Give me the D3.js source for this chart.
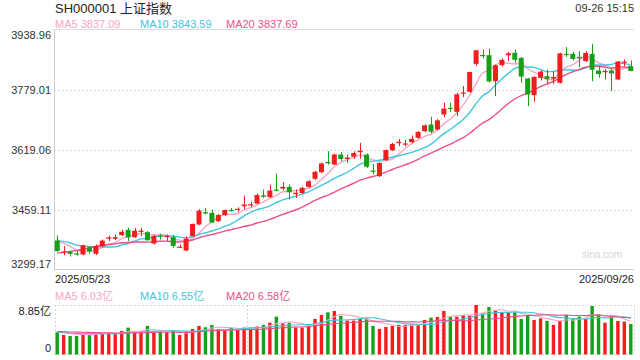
<!DOCTYPE html>
<html><head><meta charset="utf-8">
<script src="https://cdn.jsdelivr.net/npm/d3@7"></script>
<style>
body{margin:0;background:#fff;}
svg{display:block;font-family:"Liberation Sans",Arial,"Noto Sans CJK SC",sans-serif;}
</style>
</head><body>
<svg id="c" width="640" height="360"></svg>
<script>
// ---------- data ----------
const title = "SH000001 上证指数";
const stamp = "09-26 15:15";
const dateLabels = ["2025/05/23", "2025/09/26"];
const priceTicks = [3299.17, 3459.11, 3619.06, 3779.01, 3938.96];
const volTicks = [0, 8.85];
const maPeriods = [5, 10, 20];
const maNames = ["MA5", "MA10", "MA20"];
const maValues = ["3837.09", "3843.59", "3837.69"];
const volMaValues = ["6.03亿", "6.55亿", "6.58亿"];

// closes of the 19 sessions before 2025/05/23 (for moving averages)
const prevClose = [3296.36, 3297.29, 3295.06, 3288.41, 3286.65, 3279.03, 3316.11, 3342.67, 3352.00, 3342.00,
  3369.24, 3374.87, 3403.95, 3380.82, 3367.46, 3367.58, 3380.48, 3387.57, 3380.19];
const prevVolume = [4.0, 4.2, 3.9, 4.1, 4.3, 4.5, 4.6, 4.3, 4.1, 4.2, 4.0, 4.4, 4.1, 3.8, 3.7, 3.9, 4.0, 3.9, 4.0];

const open = [3376.5,3344.0,3346.0,3342.0,3339.2,3358.7,3341.0,3361.4,3381.0,3381.0,
  3390.7,3404.9,3385.4,3400.0,3398.7,3368.5,3390.0,3386.0,3385.4,3358.0,
  3349.8,3388.0,3419.1,3452.0,3450.2,3428.0,3444.0,3458.0,3458.0,3468.0,
  3470.0,3475.1,3497.0,3492.0,3512.0,3515.0,3519.5,3500.0,3503.0,3519.5,
  3541.0,3558.6,3586.0,3579.1,3605.7,3594.0,3600.0,3612.0,3605.7,3563.0,
  3548.0,3590.6,3617.3,3636.0,3633.0,3638.6,3650.2,3667.9,3685.7,3672.4,
  3712.4,3730.0,3719.5,3768.0,3772.8,3847.4,3871.0,3870.5,3801.2,3843.9,
  3870.0,3876.8,3863.4,3808.3,3763.9,3810.1,3814.6,3808.0,3796.8,3874.0,
  3874.1,3866.0,3854.5,3874.1,3829.7,3825.0,3829.7,3805.7,3850.0,3841.2];
const high = [3389.8,3361.4,3349.8,3348.0,3365.8,3361.4,3365.8,3379.1,3389.8,3392.5,
  3404.9,3410.2,3410.0,3410.2,3401.4,3392.0,3394.2,3392.5,3390.7,3365.8,
  3388.0,3422.0,3460.0,3463.6,3459.0,3447.6,3459.0,3463.6,3465.0,3496.4,
  3480.0,3501.8,3512.4,3525.8,3555.1,3532.0,3525.8,3512.4,3520.0,3537.3,
  3562.0,3584.0,3614.6,3608.4,3612.0,3605.7,3614.0,3636.8,3608.4,3580.9,
  3585.0,3619.0,3636.8,3647.5,3645.0,3656.4,3668.0,3686.0,3706.2,3700.0,
  3743.5,3743.5,3770.0,3787.9,3826.0,3884.5,3885.6,3888.3,3845.6,3862.0,
  3879.4,3885.6,3865.2,3810.0,3814.0,3829.7,3832.3,3826.1,3877.0,3891.9,
  3879.4,3881.2,3882.0,3900.8,3841.2,3833.0,3836.8,3855.0,3859.0,3856.3];
const low = [3346.3,3337.4,3333.8,3336.5,3337.4,3340.9,3337.4,3358.7,3374.7,3377.4,
  3388.0,3374.7,3383.0,3388.0,3376.5,3366.0,3379.1,3374.7,3356.9,3356.9,
  3348.0,3386.2,3417.0,3446.0,3423.6,3426.0,3442.0,3453.0,3452.0,3460.0,
  3465.0,3474.2,3490.2,3490.0,3508.0,3510.0,3485.8,3490.2,3500.0,3517.0,
  3538.0,3556.0,3579.1,3577.3,3588.0,3583.5,3594.0,3594.2,3570.0,3552.4,
  3546.0,3588.0,3615.0,3628.0,3628.0,3636.0,3648.0,3665.0,3661.7,3670.0,
  3705.3,3719.5,3708.0,3758.6,3770.0,3841.2,3861.7,3798.0,3761.2,3840.0,
  3854.5,3850.1,3796.8,3734.6,3746.1,3803.0,3792.3,3794.1,3795.0,3866.0,
  3856.3,3838.5,3853.0,3801.2,3810.1,3805.7,3774.6,3804.0,3841.2,3827.9];
const close = [3348.37,3346.84,3340.69,3339.93,3363.45,3347.49,3361.98,3376.20,3384.82,3385.36,
  3399.77,3384.82,3402.32,3402.66,3377.00,3388.73,3387.40,3388.81,3362.11,3359.90,
  3381.58,3420.57,3455.97,3448.45,3424.23,3444.43,3457.75,3454.79,3461.15,3472.32,
  3473.13,3497.48,3493.05,3509.68,3510.18,3519.65,3505.00,3503.78,3516.83,3534.48,
  3559.79,3581.86,3582.30,3605.73,3593.66,3597.94,3609.71,3615.72,3573.21,3559.95,
  3583.31,3617.60,3633.99,3639.67,3635.13,3647.55,3665.92,3683.46,3666.44,3696.77,
  3728.03,3727.29,3766.21,3771.10,3825.76,3883.56,3868.38,3800.35,3843.60,3857.93,
  3875.53,3858.13,3813.56,3765.88,3812.51,3826.84,3807.29,3812.22,3875.31,3870.60,
  3860.50,3861.87,3876.34,3831.66,3820.09,3828.58,3821.83,3853.64,3853.30,3828.11];
// volume, 亿
const volume = [3.98,3.50,3.33,3.33,3.80,3.80,3.80,3.80,3.80,3.80,
  4.22,4.81,4.10,4.10,5.11,4.10,4.10,3.98,4.22,3.50,
  3.80,4.57,5.11,4.87,5.29,4.57,4.40,4.81,4.40,4.81,
  4.81,5.00,5.29,5.70,6.77,5.58,5.70,4.81,4.81,5.00,
  6.36,7.07,7.54,7.78,6.89,6.06,6.06,6.36,6.47,5.11,
  4.57,4.93,5.11,5.29,5.29,5.41,5.41,6.18,6.59,6.71,
  7.78,6.77,6.77,7.07,6.95,8.85,7.37,8.49,7.78,7.54,
  7.54,7.54,6.36,7.07,6.18,6.47,6.00,5.29,6.00,7.07,
  6.36,6.77,6.36,8.67,7.19,5.70,6.89,6.00,5.88,5.46];

// ---------- styles ----------
const RED = "#f21d1d", GREEN = "#16a016";
const MA_COLORS = ["#f8a6c1", "#3ec6e0", "#ee4f86"];

const svg = d3.select("#c");
const L = 54, R = 634;
const mainTop = 29.5, mainBot = 269.5;
const volTop = 305, volBot = 354.5;

const idx = d3.range(close.length);
const x = d3.scaleBand().domain(idx).range([L, R]).paddingInner(0.22).paddingOuter(0.11);
const xc = i => x(i) + x.bandwidth() / 2;
const y = d3.scaleLinear().domain([priceTicks[0], priceTicks[priceTicks.length - 1]]).range([mainBot, mainTop]);
const yv = d3.scaleLinear().domain([volTicks[0], volTicks[1]]).range([volBot, volTop]);

function movingAvg(prev, arr, n) {
  const all = prev.concat(arr);
  const off = prev.length;
  return arr.map((_, i) => d3.mean(all.slice(off + i - n + 1, off + i + 1)));
}

// ---------- header ----------
svg.append("text").attr("x", 55).attr("y", 13).attr("font-size", 13).attr("fill", "#222").text(title);
svg.append("text").attr("x", 634).attr("y", 12).attr("font-size", 11).attr("fill", "#333").attr("text-anchor", "end").text(stamp);
const legX = [55, 140, 226];
maNames.forEach((n, k) => {
  svg.append("text").attr("x", legX[k]).attr("y", 28).attr("font-size", 11).attr("fill", MA_COLORS[k]).text(n + " " + maValues[k]);
  svg.append("text").attr("x", legX[k]).attr("y", 300).attr("font-size", 11).attr("fill", MA_COLORS[k]).text(n + " " + volMaValues[k]);
});

// ---------- main frame & grid ----------
const gMain = svg.append("g");
priceTicks.slice(1, -1).forEach(t => {
  gMain.append("line").attr("x1", L).attr("x2", R).attr("y1", Math.round(y(t)) + 0.5).attr("y2", Math.round(y(t)) + 0.5)
    .attr("stroke", "#d9d9d9").attr("stroke-dasharray", "2,2");
});
gMain.append("line").attr("x1", L).attr("x2", R).attr("y1", mainTop).attr("y2", mainTop).attr("stroke", "#dddddd");
gMain.append("line").attr("x1", L).attr("x2", R).attr("y1", mainBot).attr("y2", mainBot).attr("stroke", "#d0d0d0");
gMain.append("line").attr("x1", L + 0.5).attr("x2", L + 0.5).attr("y1", mainTop).attr("y2", mainBot).attr("stroke", "#cccccc");

const yAxis = d3.axisLeft(y).tickValues(priceTicks).tickSize(0).tickPadding(3).tickFormat(d3.format(".2f"));
const ga = svg.append("g").attr("transform", `translate(${L},0)`).call(yAxis);
ga.select(".domain").remove();
ga.selectAll("text").attr("font-size", 11).attr("fill", "#333").attr("font-family", "Liberation Sans, Arial, sans-serif")
  .attr("dy", (d, i) => i === 0 ? "-0.15em" : (i === priceTicks.length - 1 ? "0.82em" : "0.32em"));

// watermark
svg.append("text").attr("x", 622).attr("y", 258).attr("text-anchor", "end").attr("font-size", 10).attr("fill", "#d4d4d4").text("sina.com");

// ---------- MA lines (price) ----------
const lineGen = d3.line().x((d, i) => xc(i)).y(d => y(d)).curve(d3.curveMonotoneX);
maPeriods.forEach((p, k) => {
  const ma = movingAvg(prevClose, close, p);
  svg.append("path").attr("d", lineGen(ma)).attr("fill", "none").attr("stroke", MA_COLORS[k]).attr("stroke-width", 1.4);
});

// ---------- candles ----------
const gC = svg.append("g");
idx.forEach(i => {
  const up = close[i] >= open[i];
  const col = up ? RED : GREEN;
  const cx = Math.round(xc(i)) + 0.5;
  gC.append("line").attr("x1", cx).attr("x2", cx).attr("y1", y(high[i])).attr("y2", y(low[i])).attr("stroke", col).attr("stroke-width", 1);
  const y0 = y(Math.max(open[i], close[i])), y1 = y(Math.min(open[i], close[i]));
  gC.append("rect").attr("x", xc(i) - 2.5).attr("width", 5)
    .attr("y", y0).attr("height", Math.max(1.2, y1 - y0)).attr("fill", col);
});

// ---------- date labels ----------
svg.append("text").attr("x", 55).attr("y", 283).attr("font-size", 11).attr("fill", "#222").text(dateLabels[0]);
svg.append("text").attr("x", 634).attr("y", 283).attr("font-size", 11).attr("fill", "#222").attr("text-anchor", "end").text(dateLabels[1]);

// ---------- volume panel ----------
const gV = svg.append("g");
const dot = { stroke: "#d6d6d6", dash: "2,2" };
[[L, R, volTop + 0.5, volTop + 0.5], [L, R, volBot, volBot]].forEach(a =>
  gV.append("line").attr("x1", a[0]).attr("x2", a[1]).attr("y1", a[2]).attr("y2", a[3]).attr("stroke", dot.stroke).attr("stroke-dasharray", dot.dash));
[L + 0.5, L + (R - L) / 3, L + 2 * (R - L) / 3, R - 0.5].forEach(xx =>
  gV.append("line").attr("x1", Math.round(xx) + 0.5).attr("x2", Math.round(xx) + 0.5).attr("y1", volTop).attr("y2", volBot)
    .attr("stroke", dot.stroke).attr("stroke-dasharray", dot.dash));

idx.forEach(i => {
  const up = close[i] >= open[i];
  gV.append("rect").attr("x", xc(i) - 1.7).attr("width", 3.4)
    .attr("y", yv(volume[i])).attr("height", volBot - yv(volume[i])).attr("fill", up ? RED : GREEN);
});
const vLine = d3.line().x((d, i) => xc(i)).y(d => yv(d)).curve(d3.curveMonotoneX);
maPeriods.forEach((p, k) => {
  const ma = movingAvg(prevVolume, volume, p);
  gV.append("path").attr("d", vLine(ma)).attr("fill", "none").attr("stroke", MA_COLORS[k]).attr("stroke-width", 1.1);
});
svg.append("text").attr("x", 51).attr("y", 315).attr("text-anchor", "end").attr("font-size", 11).attr("fill", "#222").text(volTicks[1] + "亿");
svg.append("text").attr("x", 51).attr("y", 352).attr("text-anchor", "end").attr("font-size", 11).attr("fill", "#222").text(String(volTicks[0]));
</script>
</body></html>
